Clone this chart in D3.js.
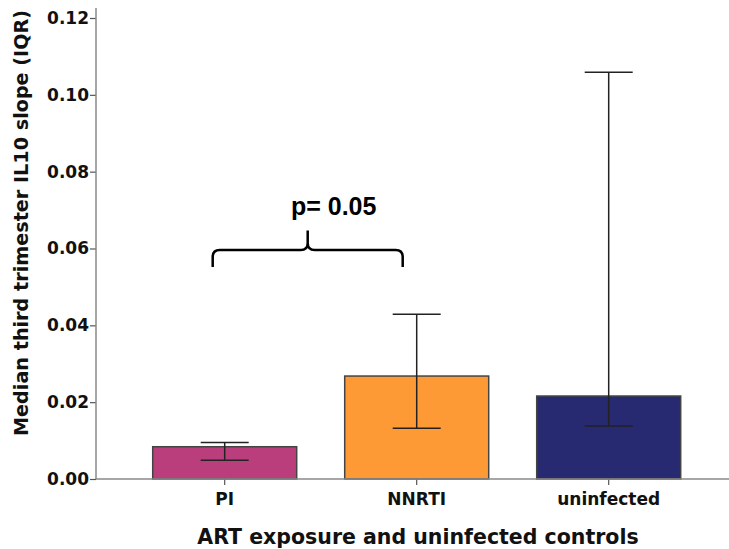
<!DOCTYPE html>
<meta charset="utf-8">
<style>
  body { margin: 0; background: #fff; }
  svg { display: block; }
  .tick text { font: bold 17px "DejaVu Sans", sans-serif; fill: #111; }
  .cat { font: bold 17px "DejaVu Sans", sans-serif; fill: #111; }
  .title { font: bold 19.2px "DejaVu Sans", sans-serif; fill: #111; }
  .pval { font: bold 25px "Liberation Sans", Arial, sans-serif; fill: #000; }
</style>
<body>
<script src="https://d3js.org/d3.v7.min.js"></script>
<script>

var groups = ["PI", "NNRTI", "uninfected"];
var medians = [0.0084, 0.0268, 0.0216];
var q1 = [0.0049, 0.0132, 0.0138];
var q3 = [0.0095, 0.0429, 0.1059];
var colors = ["#bb3e7c", "#fd9a36", "#272a70"];
var yTicks = [0, 0.02, 0.04, 0.06, 0.08, 0.10, 0.12];

// bracket between PI and NNRTI
var bracketY = [0.0552, 0.0596, 0.0647];
var pLabel = "p= 0.05";

var width = 729,
    height = 549;

var svg = d3.select("body").append("svg")
  .attr("width", width)
  .attr("height", height);

var x = d3.scaleBand()
  .domain(groups)
  .range([128.7, 704.7])
  .paddingInner(0.25)
  .paddingOuter(0.125);

var y = d3.scaleLinear()
  .domain([0, 0.12])
  .range([479, 18]);

var data = groups.map(function(g, i) {
  return {name: g, med: medians[i], lo: q1[i], hi: q3[i], color: colors[i]};
});

// bars
svg.selectAll("rect.bar")
  .data(data)
  .enter()
  .append("rect")
    .attr("class", "bar")
    .attr("x", function(d) { return x(d.name); })
    .attr("y", function(d) { return y(d.med); })
    .attr("width", x.bandwidth())
    .attr("height", function(d) { return y(0) - y(d.med); })
    .style("fill", function(d) { return d.color; })
    .style("stroke", "#444")
    .style("stroke-width", 1.5);

// error bars
var capW = x.bandwidth() / 3;
var err = svg.selectAll("g.err")
  .data(data)
  .enter()
  .append("g")
    .attr("class", "err")
    .attr("transform", function(d) { return "translate(" + (x(d.name) + x.bandwidth() / 2) + ",0)"; })
    .style("stroke", "#222")
    .style("stroke-width", 1.5);

err.append("line")
  .attr("y1", function(d) { return y(d.lo); })
  .attr("y2", function(d) { return y(d.hi); });
err.append("line")
  .attr("x1", -capW / 2).attr("x2", capW / 2)
  .attr("y1", function(d) { return y(d.hi); })
  .attr("y2", function(d) { return y(d.hi); });
err.append("line")
  .attr("x1", -capW / 2).attr("x2", capW / 2)
  .attr("y1", function(d) { return y(d.lo); })
  .attr("y2", function(d) { return y(d.lo); });

// y axis
var yAxis = svg.append("g")
  .attr("transform", "translate(96,0)")
  .call(d3.axisLeft(y).tickValues(yTicks).tickFormat(d3.format(".2f")).tickSize(6).tickPadding(1));
yAxis.select(".domain").remove();
yAxis.selectAll(".tick line").style("stroke", "#555").style("stroke-width", 1.2);

svg.append("line")
  .attr("x1", 96).attr("x2", 96)
  .attr("y1", 8).attr("y2", y(0))
  .style("stroke", "#888").style("stroke-width", 1.5);

// x axis
var xAxis = svg.append("g")
  .attr("transform", "translate(0," + y(0) + ")")
  .call(d3.axisBottom(x).tickSize(6).tickPadding(5));
xAxis.select(".domain").remove();
xAxis.selectAll(".tick line").style("stroke", "#555").style("stroke-width", 1.2);
xAxis.selectAll(".tick text").attr("class", "cat").attr("dy", "0.9em");

svg.append("line")
  .attr("x1", 96).attr("x2", width)
  .attr("y1", y(0)).attr("y2", y(0))
  .style("stroke", "#888").style("stroke-width", 1.5);

// axis titles
svg.append("text")
  .attr("class", "title")
  .attr("transform", "translate(28,436) rotate(-90)")
  .attr("text-anchor", "start")
  .text("Median third trimester IL10 slope (IQR)");

svg.append("text")
  .attr("class", "title")
  .attr("x", 418)
  .attr("y", 544)
  .attr("text-anchor", "middle")
  .style("font-size", "20.5px")
  .text("ART exposure and uninfected controls");

// significance bracket
var bx0 = x("PI") + x.bandwidth() / 2 - 12,
    bx1 = x("NNRTI") + x.bandwidth() / 2 - 14,
    bm = (bx0 + bx1) / 2,
    yb = y(bracketY[0]), ym = y(bracketY[1]), yt = y(bracketY[2]), r = 7;

var p = d3.path();
p.moveTo(bx0, yb);
p.lineTo(bx0, ym + r);
p.quadraticCurveTo(bx0, ym, bx0 + r, ym);
p.lineTo(bm - r, ym);
p.quadraticCurveTo(bm, ym, bm, ym - r);
p.lineTo(bm, yt);
p.moveTo(bm, ym - r);
p.quadraticCurveTo(bm, ym, bm + r, ym);
p.lineTo(bx1 - r, ym);
p.quadraticCurveTo(bx1, ym, bx1, ym + r);
p.lineTo(bx1, yb);

svg.append("path")
  .attr("d", p.toString())
  .style("fill", "none")
  .style("stroke", "#000")
  .style("stroke-width", 2.5);

svg.append("text")
  .attr("class", "pval")
  .attr("x", bm + 26)
  .attr("y", 215)
  .attr("text-anchor", "middle")
  .text(pLabel);

</script>
